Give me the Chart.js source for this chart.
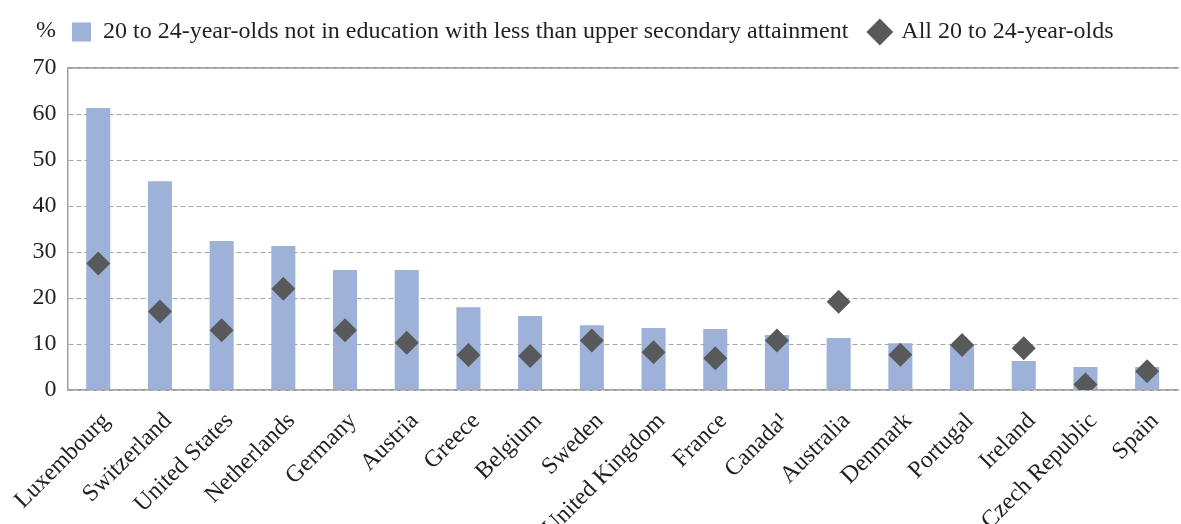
<!DOCTYPE html>
<html>
<head>
<meta charset="utf-8">
<script src="https://cdn.jsdelivr.net/npm/chart.js@4"></script>
<style>
    html, body { margin: 0; padding: 0; background: #fff; overflow: hidden; }
    #wrap { width: 1190px; height: 524px; }
</style>
</head>
<body>
<div id="wrap"><canvas id="chart"></canvas></div>
<script>
// Data
const countries = ['Luxembourg', 'Switzerland', 'United States', 'Netherlands', 'Germany', 'Austria',
    'Greece', 'Belgium', 'Sweden', 'United Kingdom', 'France', 'Canada\u00B9', 'Australia',
    'Denmark', 'Portugal', 'Ireland', 'Czech Republic', 'Spain'];
const notInEducation = [61.3, 45.4, 32.4, 31.3, 26.1, 26.1, 18.0, 16.1, 14.1, 13.5, 13.3, 12.0, 11.3, 10.2, 9.9, 6.3, 5.0, 5.0];
const allYouth = [27.5, 17.1, 13.0, 22.0, 13.0, 10.3, 7.6, 7.4, 10.8, 8.2, 6.9, 10.8, 19.2, 7.7, 9.8, 9.1, 1.2, 4.1];
const yTicks = [0, 10, 20, 30, 40, 50, 60, 70];

const textColor = '#231F20';
const fontFamily = '"Liberation Serif", "DejaVu Serif", serif';
const fontSize = 24;

// "%" unit label in the top-left corner, and nudge the legend so it sits after it
const unitLabel = {
    id: 'unitLabel',
    afterLayout(chart) {
        chart.legend.left += 31;
        chart.legend.right += 31;
        chart.legend.top -= 2;
        chart.legend.bottom -= 2;
    },
    afterDraw(chart) {
        const ctx = chart.ctx;
        ctx.save();
        ctx.font = fontSize + 'px ' + fontFamily;
        ctx.fillStyle = textColor;
        ctx.textBaseline = 'middle';
        ctx.fillText('%', 36, 31);
        ctx.restore();
    }
};

new Chart(document.getElementById('chart'), {
    type: 'bar',
    data: {
        labels: countries,
        datasets: [{
            label: '20 to 24-year-olds not in education with less than upper secondary attainment',
            data: notInEducation,
            backgroundColor: '#9DB1D9',
            barPercentage: 0.39,
            categoryPercentage: 1,
            pointStyle: 'rect',
            order: 2
        }, {
            type: 'line',
            label: 'All 20 to 24-year-olds',
            data: allYouth,
            showLine: false,
            pointStyle: 'rectRot',
            pointRadius: 12,
            pointHoverRadius: 12,
            backgroundColor: '#58595B',
            borderColor: '#58595B',
            borderWidth: 0,
            order: 1
        }]
    },
    options: {
        responsive: true,
        maintainAspectRatio: false,
        animation: false,
        layout: { padding: { left: 19, right: 0, top: 0, bottom: 0 } },
        plugins: {
            tooltip: { enabled: false },
            legend: {
                position: 'top',
                align: 'start',
                labels: {
                    sort: (a, b) => a.datasetIndex - b.datasetIndex,
                    usePointStyle: true,
                    boxWidth: 19,
                    boxHeight: 19,
                    padding: 22,
                    color: textColor,
                    font: { family: fontFamily, size: fontSize }
                }
            }
        },
        scales: {
            x: {
                grid: { display: false },
                border: { display: true, color: '#A0A0A0', width: 1.5 },
                ticks: {
                    color: textColor,
                    font: { family: fontFamily, size: fontSize },
                    maxRotation: 45,
                    minRotation: 45,
                    autoSkip: false,
                    padding: 9,
                    labelOffset: 8
                },
                // the long labels run off the bottom edge in the original
                afterFit: (axis) => { axis.height -= 27; }
            },
            xTop: {
                position: 'top',
                grid: { display: false },
                border: { display: true, color: '#A0A0A0', width: 1.5 },
                ticks: { display: false },
                afterFit: (axis) => { axis.height = 12; }
            },
            y: {
                min: 0,
                max: 70,
                afterBuildTicks: (axis) => { axis.ticks = yTicks.map(v => ({ value: v })); },
                grid: { color: '#A6A6A6', lineWidth: 1, drawTicks: false },
                border: { display: true, color: '#A0A0A0', width: 1.5, dash: [5, 3] },
                ticks: {
                    color: textColor,
                    font: { family: fontFamily, size: fontSize },
                    padding: 11
                }
            }
        }
    },
    plugins: [unitLabel]
});
</script>
</body>
</html>
